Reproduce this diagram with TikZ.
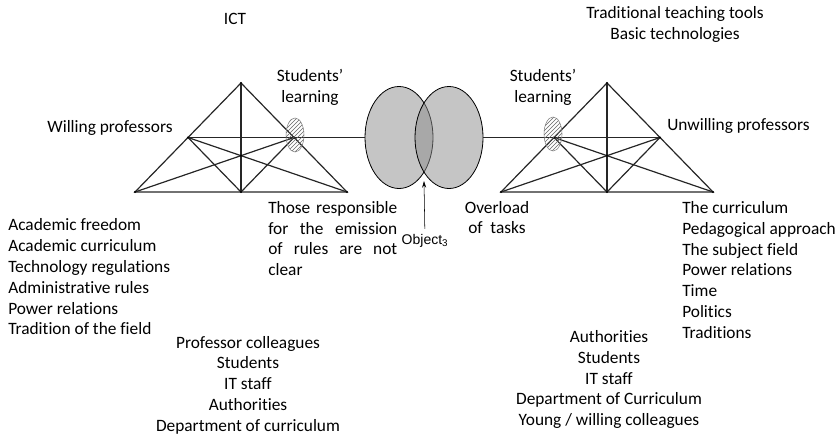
\documentclass[tikz,border=0pt]{standalone}
\usepackage{fontspec}
\setmainfont{Carlito}[Ligatures={TeX,NoCommon}]
\newfontfamily\arialfont{Liberation Sans}
\usetikzlibrary{shapes.geometric,arrows.meta,patterns,calc}
\tikzstyle{txt}=[inner sep=0pt, font=\fontsize{13}{15.6}\selectfont]
\tikzstyle{tri}=[line width=0.9pt, black!85]
\tikzstyle{objnode}=[ellipse, draw, line width=0.6pt, fill=black!45, fill opacity=0.5, minimum width=51pt, minimum height=76.5pt, inner sep=0pt]
\tikzstyle{learning}=[ellipse, draw=gray, pattern=north east lines, pattern color=black!60, minimum width=13.5pt, minimum height=25.5pt, inner sep=0pt]
\tikzstyle{arrow}=[thin,-{Stealth[length=5pt,width=3pt]}]

\begin{document}
\begin{tikzpicture}[x=0.75pt,y=-0.75pt]
\useasboundingbox (0,0) rectangle (837,435);

% the two triangles
\foreach \t/\cx in {L/241,R/607}{
  \coordinate (\t-top) at (\cx,83);
  \coordinate (\t-bl) at (\cx-106,192);
  \coordinate (\t-br) at (\cx+106,192);
  \coordinate (\t-bm) at (\cx,192);
  \coordinate (\t-lm) at (\cx-53,137.5);
  \coordinate (\t-rm) at (\cx+53,137.5);
  \draw[tri] (\t-bl) -- (\t-top) -- (\t-br) -- cycle;
  \draw[tri] (\t-top) -- (\t-bm);
  \draw[tri] (\t-lm) -- (\t-rm);
  \draw[tri] (\t-lm) -- (\t-bm) -- (\t-rm);
  \draw[tri] (\t-lm) -- (\t-br);
  \draw[tri] (\t-bl) -- (\t-rm);
  \foreach \p in {top,bl,br,bm,lm,rm} \fill (\t-\p) circle (0.9pt);
  \fill ($(\t-lm)!1/3!(\t-br)$) circle (0.9pt);
}

% objects
\node[objnode] (objA) at (399,137.5) {};
\node[objnode] (objB) at (449,137.5) {};
\draw[tri] (L-rm) -- (objA);
\draw[tri] (objB) -- (R-lm);

\node[learning] (L-learn) at (295,135) {};
\node[learning] (R-learn) at (553,134) {};

\coordinate (lens) at (424,181);
\node[font=\arialfont\fontsize{10.5}{12}\selectfont, inner sep=4pt] (obj3) at (425,241) {Object\textsubscript{3}};
\draw[arrow] (obj3) -- (lens);

% texts
\node[txt] (ict) at (235,19) {ICT};
\node[txt,align=center] (tools) at (675,24.5) {Traditional teaching tools\\Basic technologies};
\node[txt] (willing) at (110,128) {Willing professors};
\node[txt,anchor=west] (unwilling) at (667,126) {Unwilling professors};
\node[txt,align=center] (L-learn-txt) at (310,87) {Students’\\learning};
\node[txt,align=center] (R-learn-txt) at (543,87) {Students’\\learning};

\node[txt,align=left,anchor=north west] (rules) at (268,201) {\makebox[96.75pt][s]{Those responsible}\\
  \makebox[96.75pt][s]{for the emission}\\
  \makebox[96.75pt][s]{of rules are not}\\
  clear};
\node[txt,align=center] (overload) at (497,217.5) {Overload\\\makebox[43pt][s]{of tasks}};

\node[txt,align=left,anchor=west] (L-factors) at (8,277) {Academic freedom\\Academic curriculum\\Technology regulations\\Administrative rules\\Power relations\\Tradition of the field};
\node[txt,align=left,anchor=west] (R-factors) at (682,270) {The curriculum\\Pedagogical approach\\The subject field\\Power relations\\Time\\Politics\\Traditions};

\node[txt,align=center] (L-actors) at (248,385) {Professor colleagues\\Students\\IT staff\\Authorities\\Department of curriculum};
\node[txt,align=center] (R-actors) at (609,379.5) {Authorities\\Students\\IT staff\\Department of Curriculum\\Young / willing colleagues};
\end{tikzpicture}
\end{document}
